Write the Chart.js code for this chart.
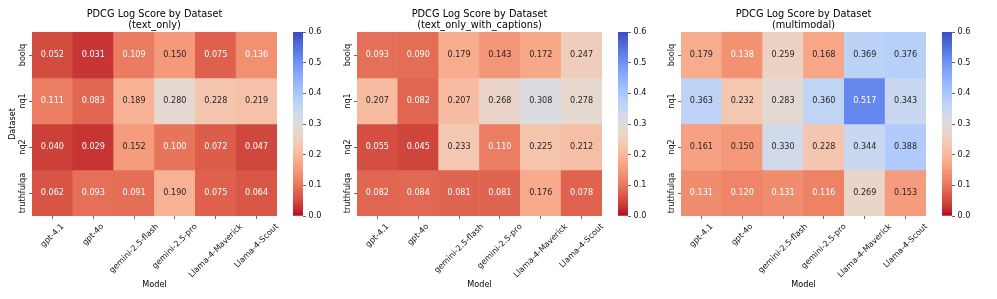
<!DOCTYPE html>
<html>
<head>
<meta charset="utf-8">
<script src="https://cdn.jsdelivr.net/npm/chart.js@4.4.0/dist/chart.umd.min.js"></script>
<style>
  body { margin: 0; background: #fff; }
  #fig { position: relative; width: 997px; height: 299px; overflow: hidden; }
  canvas { position: absolute; top: 0; }
</style>
</head>
<body>
<div id="fig"></div>
<script>
// data
const models = ['gpt-4.1', 'gpt-4o', 'gemini-2.5-flash', 'gemini-2.5-pro', 'Llama-4-Maverick', 'Llama-4-Scout'];
const datasets = ['boolq', 'nq1', 'nq2', 'truthfulqa'];

const textOnly = [
    [0.052, 0.031, 0.109, 0.150, 0.075, 0.136],
    [0.111, 0.083, 0.189, 0.280, 0.228, 0.219],
    [0.040, 0.029, 0.152, 0.100, 0.072, 0.047],
    [0.062, 0.093, 0.091, 0.190, 0.075, 0.064],
];
const textOnlyWithCaptions = [
    [0.093, 0.090, 0.179, 0.143, 0.172, 0.247],
    [0.207, 0.082, 0.207, 0.268, 0.308, 0.278],
    [0.055, 0.045, 0.233, 0.110, 0.225, 0.212],
    [0.082, 0.084, 0.081, 0.081, 0.176, 0.078],
];
const multimodal = [
    [0.179, 0.138, 0.259, 0.168, 0.369, 0.376],
    [0.363, 0.232, 0.283, 0.360, 0.517, 0.343],
    [0.161, 0.150, 0.330, 0.228, 0.344, 0.388],
    [0.131, 0.120, 0.131, 0.116, 0.269, 0.153],
];
const cbTicks = [0.0, 0.1, 0.2, 0.3, 0.4, 0.5, 0.6];
const vmin = 0, vmax = 0.6;

// matplotlib coolwarm, 33 points (blue -> red); we use it reversed
const coolwarm = [
    [59,76,192],[68,90,204],[77,104,215],[87,117,225],[98,130,234],[108,142,241],[119,154,247],[130,165,251],
    [141,176,254],[152,185,255],[163,194,255],[174,201,253],[184,208,249],[194,213,244],[204,217,238],[213,219,230],
    [221,221,221],[229,216,209],[236,211,197],[241,204,185],[245,196,173],[247,187,160],[247,177,148],[247,166,135],
    [244,154,123],[241,141,111],[236,127,99],[229,112,88],[222,96,77],[213,80,66],[203,62,56],[192,40,47],[180,4,38]
];

function cmapRGB(v) {
    let f = (v - vmin) / (vmax - vmin);
    f = Math.min(1, Math.max(0, f));
    const t = (1 - f) * (coolwarm.length - 1);   // _r
    const i = Math.min(Math.floor(t), coolwarm.length - 2);
    const k = t - i;
    const a = coolwarm[i], b = coolwarm[i + 1];
    return [0, 1, 2].map(j => a[j] + (b[j] - a[j]) * k);
}
function cmap(v) {
    const c = cmapRGB(v);
    return 'rgb(' + c.map(Math.round).join(',') + ')';
}
// same rule seaborn uses for annotation colour
function textColor(v) {
    const lin = cmapRGB(v).map(x => {
        x = x / 255;
        return x <= 0.03928 ? x / 12.92 : Math.pow((x + 0.055) / 1.055, 2.4);
    });
    const lum = 0.2126 * lin[0] + 0.7152 * lin[1] + 0.0722 * lin[2];
    return lum < 0.408 ? '#ffffff' : '#262626';
}

const FONT = 'DejaVu Sans';
const small = { family: FONT, size: 8.1 };

const panels = [
    { name: 'text_only', values: textOnly, left: 32, yLabel: 'Dataset' },
    { name: 'text_only_with_captions', values: textOnlyWithCaptions, left: 357, yLabel: '' },
    { name: 'multimodal', values: multimodal, left: 681, yLabel: '' },
];

const fig = document.getElementById('fig');

function makeCanvas(left, width) {
    const c = document.createElement('canvas');
    c.width = width;
    c.height = 299;
    c.style.left = left + 'px';
    c.style.width = width + 'px';
    c.style.height = '299px';
    fig.appendChild(c);
    return c.getContext('2d');
}

// cell numbers
const annotate = {
    id: 'annotate',
    afterDatasetsDraw(chart) {
        const ctx = chart.ctx;
        ctx.save();
        ctx.font = small.size + 'px "' + FONT + '"';
        ctx.textAlign = 'center';
        ctx.textBaseline = 'middle';
        chart.data.datasets.forEach((ds, r) => {
            chart.getDatasetMeta(r).data.forEach((el, i) => {
                const v = ds.values[i];
                ctx.fillStyle = textColor(v);
                ctx.fillText(v.toFixed(3), el.x, (el.y + el.base) / 2);
            });
        });
        ctx.restore();
    }
};

// matplotlib-style tick labels (rotated x labels centred on the tick)
const tickLabels = {
    id: 'tickLabels',
    afterDraw(chart) {
        const ctx = chart.ctx;
        const xs = chart.scales.x, ys = chart.scales.y;
        ctx.save();
        ctx.font = small.size + 'px "' + FONT + '"';
        ctx.fillStyle = '#111';
        ctx.textAlign = 'center';
        ctx.textBaseline = 'middle';
        const top = chart.chartArea.bottom + 6;
        const h = small.size * 1.16;
        models.forEach((m, i) => {
            const w = ctx.measureText(m).width;
            const H = (w + h) * Math.SQRT1_2;
            ctx.save();
            ctx.translate(xs.getPixelForValue(i), top + H / 2);
            ctx.rotate(-Math.PI / 4);
            ctx.fillText(m, 0, 0);
            ctx.restore();
        });
        datasets.forEach((d, r) => {
            ctx.save();
            ctx.translate(chart.chartArea.left - 9.5, ys.getPixelForValue(r + 0.5));
            ctx.rotate(-Math.PI / 2);
            ctx.fillText(d, 0, 0);
            ctx.restore();
        });
        ctx.restore();
    }
};

panels.forEach(p => {
    const ctx = makeCanvas(p.left - 32, 32 + 245 + 12);
    new Chart(ctx, {
        type: 'bar',
        data: {
            labels: models,
            datasets: datasets.map((name, r) => ({
                label: name,
                data: models.map(() => [r, r + 1]),
                values: p.values[r],
                backgroundColor: p.values[r].map(cmap),
                borderWidth: 0,
                grouped: false,
                barPercentage: 1,
                categoryPercentage: 1,
            })),
        },
        options: {
            responsive: false,
            animation: false,
            layout: { padding: { left: 0, right: 12, top: 0, bottom: 0 } },
            plugins: {
                legend: { display: false },
                tooltip: { enabled: false },
                title: {
                    display: true,
                    text: ['PDCG Log Score by Dataset', '(' + p.name + ')'],
                    fullSize: false,
                    color: '#000',
                    font: { family: FONT, size: 9.8, weight: 'normal', lineHeight: 1.15 },
                    padding: { top: 8.4, bottom: 1.1 },
                },
            },
            scales: {
                x: {
                    type: 'category',
                    offset: true,
                    grid: { offset: false, drawOnChartArea: false, tickLength: 3, tickColor: '#444', tickWidth: 0.8 },
                    border: { display: false },
                    ticks: { display: false },
                    title: { display: true, text: 'Model', color: '#000', font: small, padding: { top: 0, bottom: 9 } },
                    afterFit: s => { s.height = 83; },
                },
                y: {
                    type: 'linear',
                    reverse: true,
                    min: 0,
                    max: datasets.length,
                    afterBuildTicks: s => { s.ticks = datasets.map((d, i) => ({ value: i + 0.5 })); },
                    grid: { drawOnChartArea: false, tickLength: 3, tickColor: '#444', tickWidth: 0.8 },
                    border: { display: false },
                    ticks: { display: false },
                    title: { display: !!p.yLabel, text: p.yLabel, color: '#000', font: small, padding: { top: 8, bottom: 0 } },
                    afterFit: s => { s.width = 32; },
                },
            },
        },
        plugins: [annotate, tickLabels],
    });

    // colour bar
    const cctx = makeCanvas(p.left + 261, 40);
    new Chart(cctx, {
        type: 'bar',
        data: {
            labels: [''],
            datasets: [{
                data: [[vmin, vmax]],
                backgroundColor: c => {
                    const chart = c.chart;
                    const ys = chart.scales.y;
                    if (!ys) return cmap(vmin);
                    const y0 = ys.getPixelForValue(vmin), y1 = ys.getPixelForValue(vmax);
                    if (!isFinite(y0) || !isFinite(y1) || y0 === y1) return cmap(vmin);
                    const g = chart.ctx.createLinearGradient(0, y0, 0, y1);
                    for (let k = 0; k <= 32; k++) {
                        const f = k / 32;
                        g.addColorStop(f, cmap(vmin + f * (vmax - vmin)));
                    }
                    return g;
                },
                borderWidth: 0,
                barPercentage: 1,
                categoryPercentage: 1,
            }],
        },
        options: {
            responsive: false,
            animation: false,
            layout: { padding: { left: 0, right: 0, top: 32, bottom: 83 } },
            plugins: { legend: { display: false }, tooltip: { enabled: false } },
            scales: {
                x: { display: false },
                y: {
                    position: 'right',
                    min: vmin,
                    max: vmax,
                    afterBuildTicks: s => { s.ticks = cbTicks.map(v => ({ value: v })); },
                    ticks: { callback: v => v.toFixed(1), color: '#111', font: small, padding: 2.5 },
                    grid: { drawOnChartArea: false, tickLength: 3, tickColor: '#444', tickWidth: 0.8 },
                    border: { display: false },
                    afterFit: s => { s.width = 30; },
                },
            },
        },
    });
});
</script>
</body>
</html>
